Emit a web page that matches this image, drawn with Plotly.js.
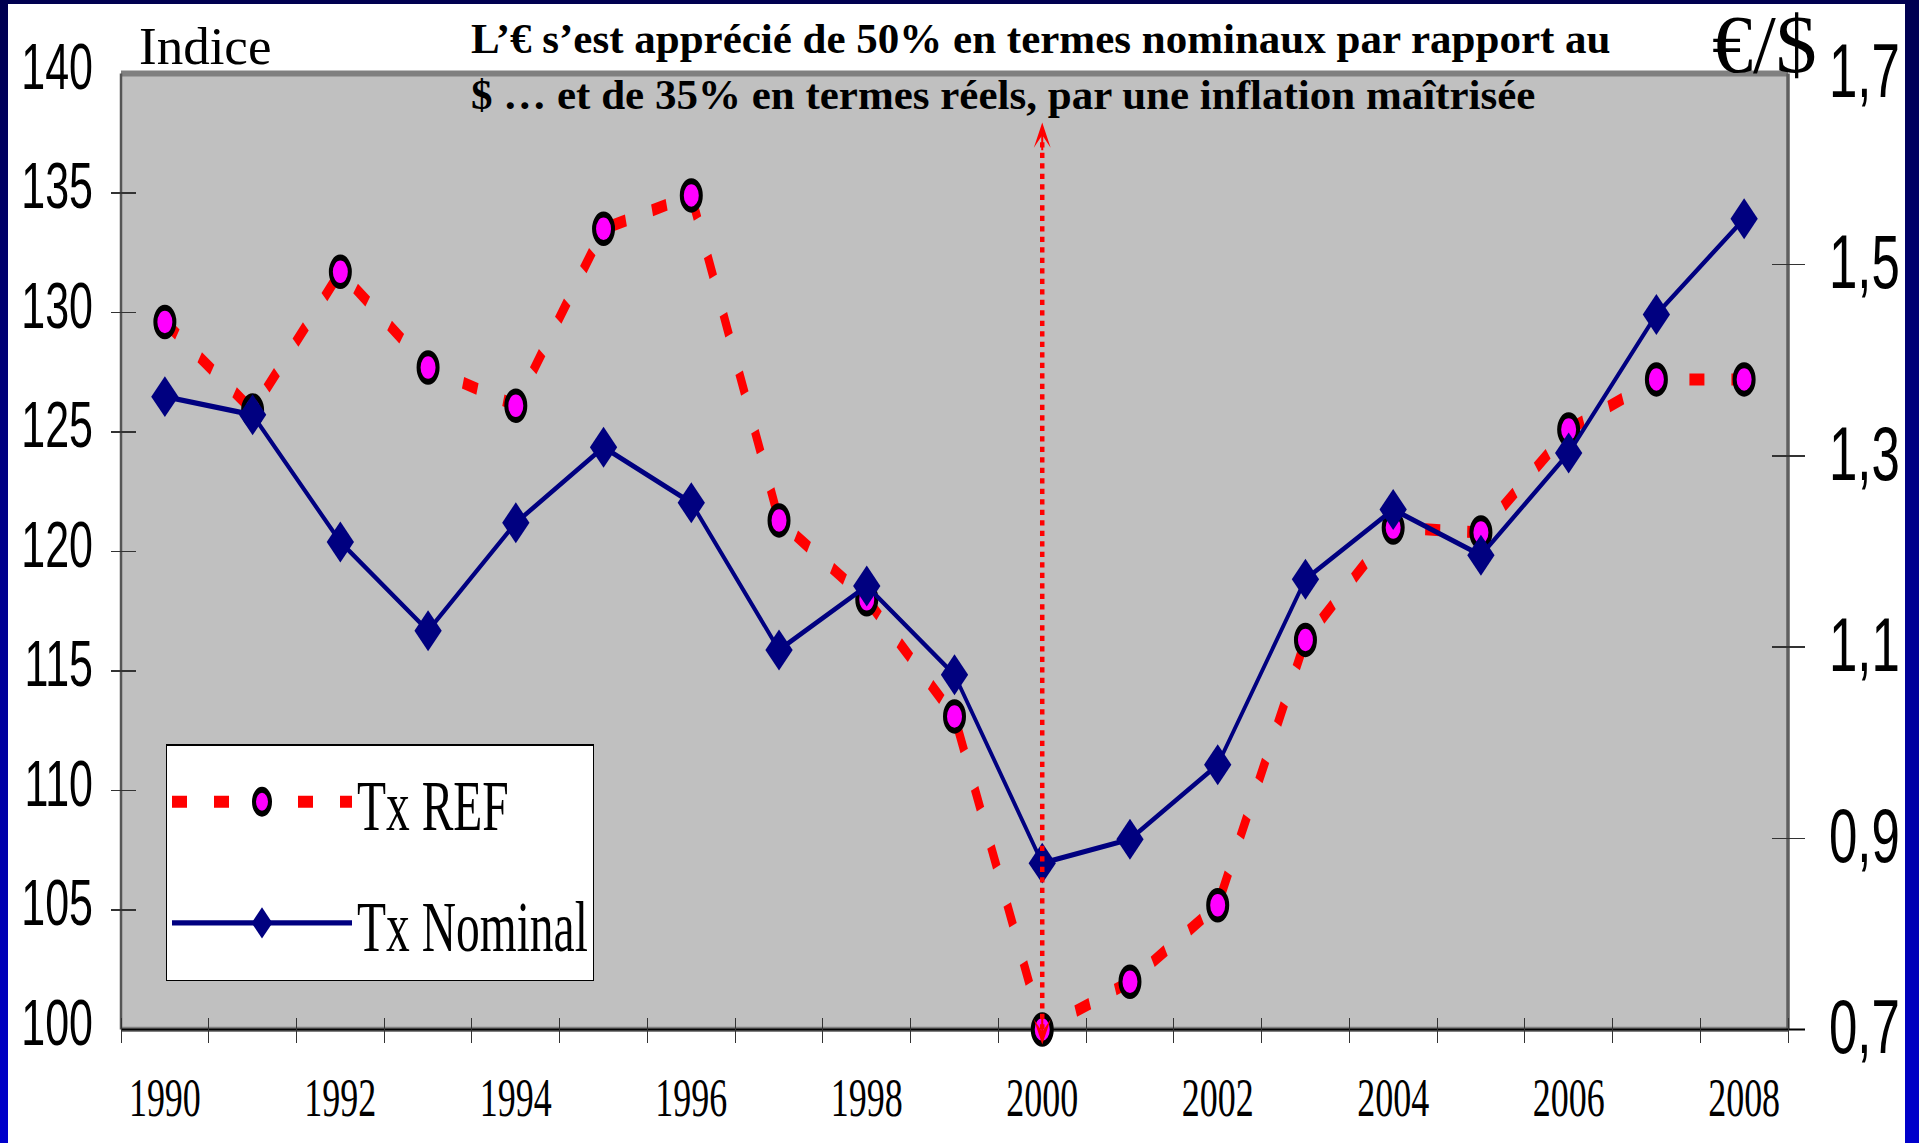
<!DOCTYPE html>
<html>
<head>
<meta charset="utf-8">
<script src="https://cdn.plot.ly/plotly-3.0.1.min.js"></script>
<style>
html,body{margin:0;padding:0;width:1919px;height:1143px;overflow:hidden;background:linear-gradient(to bottom,#000050,#0000cc);}
#panel{position:absolute;left:8px;top:4px;width:1897px;height:1139px;background:#ffffff;}
#chart{position:absolute;left:0;top:0;width:1919px;height:762px;transform:scaleY(1.5);transform-origin:0 0;}
#titles{position:absolute;left:0;top:0;width:1919px;height:1143px;pointer-events:none;}
</style>
</head>
<body>
<div id="panel"></div>
<div id="chart"></div>
<div id="titles"></div>
<script>
// ---- data ----
const years = [1990,1991,1992,1993,1994,1995,1996,1997,1998,1999,2000,2001,2002,2003,2004,2005,2006,2007,2008];
const txRef = [129.6,125.9,131.7,127.7,126.1,133.5,134.9,121.3,118.0,113.1,100.0,102.0,105.2,116.3,121.0,120.8,125.1,127.2,127.2];
const txNominal = [1.362,1.343,1.210,1.117,1.230,1.309,1.251,1.097,1.164,1.071,0.874,0.899,0.977,1.171,1.244,1.196,1.303,1.448,1.548];
const xLabelYears = [1990,1992,1994,1996,1998,2000,2002,2004,2006,2008];
const leftTicks = [100,105,110,115,120,125,130,135,140];
const rightTicks = [0.7,0.9,1.1,1.3,1.5,1.7];
const seriesNames = ['Tx REF','Tx Nominal'];
const titleLines = ['L’€ s’est apprécié de 50% en termes nominaux par rapport au',
                    '$ … et de 35% en termes réels, par une inflation maîtrisée'];
const leftTitle = 'Indice';
const rightTitle = '€/$';
const arrowYear = 2000;
const arrowTop = 137.95;

// ---- geometry helpers ----
const S = 1.5;                 // vertical stretch of the chart picture
const W = 1919, FULLH = 1143, H = FULLH / S;
const M = {l: 110, r: 114, t: 49.33, b: 67.33};
const PW = W - M.l - M.r, PH = H - M.t - M.b;
const xDom = [11 / PW, (1788 - M.l) / PW];
const yDom = [(13 / S) / PH, 1];
const bounds = years.map(y => y - 0.5).concat([years[years.length-1] + 0.5]);
const xRange = [bounds[0], bounds[bounds.length-1]];
const serif = 'Liberation Serif, Times New Roman, serif';
const sans = 'Liberation Sans, Arial, sans-serif';
const xDomExt = (W - M.r - (M.l + xDom[0]*PW)) / ((xDom[1]-xDom[0]) * PW);

const data = [
  {
    x: years, y: txRef, xaxis: 'x', yaxis: 'y',
    mode: 'lines+markers', name: seriesNames[0], legendgroup: 'a',
    line: {color: '#ff0000', width: 8, dash: '15px,27px'},
    marker: {symbol: 'circle', size: 19, color: '#ff00ff', line: {color: '#000000', width: 4}},
    cliponaxis: false
  },
  {
    x: years, y: txNominal, xaxis: 'x', yaxis: 'y2',
    mode: 'lines+markers', name: seriesNames[1], legendgroup: 'b',
    line: {color: '#000080', width: 3.5},
    marker: {symbol: 'diamond', size: 21, color: '#000080'},
    cliponaxis: false
  }
];

const tickStyle = {tickwidth: 1, tickcolor: '#333'};

const layout = {
  width: W, height: H,
  margin: {l: M.l, r: M.r, t: M.t, b: M.b, pad: 0},
  paper_bgcolor: 'rgba(0,0,0,0)',
  plot_bgcolor: '#c0c0c0',
  separators: ', ',
  showlegend: true,
  xaxis: {
    domain: xDom, anchor: 'free', position: 0, range: xRange,
    tickmode: 'array', tickvals: xLabelYears, ticktext: xLabelYears.map(String), ticks: '',
    ticklabelstandoff: 12,
    minor: {tickmode: 'array', tickvals: bounds, ticks: 'inside', ticklen: 25 / S, tickwidth: 1, tickcolor: '#333', showgrid: false},
    showline: false, showgrid: false, zeroline: false, fixedrange: true,
    tickfont: {family: serif, size: 36, color: '#000'}
  },
  yaxis: Object.assign({
    domain: yDom, anchor: 'free', position: 0,
    range: [leftTicks[0], leftTicks[leftTicks.length-1]], tickmode: 'array', tickvals: leftTicks,
    ticks: 'inside', ticklen: 25, showline: false, showgrid: false, zeroline: false, fixedrange: true,
    ticklabelstandoff: 17, ticklabelshift: -5,
    tickfont: {family: sans, size: 43, color: '#000'}
  }, tickStyle),
  yaxis2: Object.assign({
    overlaying: 'y', side: 'right', anchor: 'free', position: 1,
    range: [rightTicks[0], rightTicks[rightTicks.length-1]], tickmode: 'array', tickvals: rightTicks, tickformat: '.1f',
    ticks: 'inside', ticklen: 33, showline: false, showgrid: false, zeroline: false, fixedrange: true,
    ticklabelstandoff: 23, ticklabelshift: -2,
    tickfont: {family: sans, size: 51, color: '#000'}
  }, tickStyle),
  legend: {
    x: (166 - M.l) / PW, y: (M.t + PH - 744 / S) / PH, xanchor: 'left', yanchor: 'top',
    bgcolor: '#ffffff', bordercolor: '#000000', borderwidth: 1,
    font: {family: serif, size: 47.5, color: '#000'},
    itemwidth: 180, tracegroupgap: 16, traceorder: 'grouped', itemsizing: 'trace'
  },
  shapes: [
    {type: 'line', xref: 'x domain', yref: 'y domain', x0: 0, x1: 1, y0: 1, y1: 1, layer: 'below', line: {color: '#808080', width: 4}},
    {type: 'line', xref: 'x domain', yref: 'y domain', x0: 0, x1: 1, y0: 0, y1: 0, layer: 'below', line: {color: '#808080', width: 3.5}},
    {type: 'line', xref: 'x domain', yref: 'y domain', x0: 1, x1: 1, y0: 0, y1: 1, layer: 'below', line: {color: '#606060', width: 3.5}},
    {type: 'line', xref: 'x domain', yref: 'y domain', x0: 0, x1: 0, y0: 0, y1: 1, layer: 'below', line: {color: '#555555', width: 2.5}},
    {type: 'line', xref: 'x domain', yref: 'y domain', x0: 0, x1: xDomExt, y0: 0, y1: 0, layer: 'below', line: {color: '#000000', width: 1.2}},
    {type: 'line', xref: 'x', yref: 'y', x0: arrowYear, x1: arrowYear, y0: leftTicks[0], y1: arrowTop - 0.6, layer: 'above',
      line: {color: '#ff0000', width: 4.5, dash: '3.5px,3.5px'}}
  ],
  annotations: [
    {text: '', xref: 'x', yref: 'y', x: arrowYear, y: arrowTop, ax: 0, ay: 20, showarrow: true,
      arrowhead: 3, arrowsize: 1.4, arrowwidth: 2, arrowcolor: '#ff0000'},
    {text: '', xref: 'x', yref: 'paper', x: arrowYear, y: (M.t + PH - 1044 / S) / PH, ax: 0, ay: -20, showarrow: true,
      arrowhead: 3, arrowsize: 1.4, arrowwidth: 2, arrowcolor: '#ff0000'}
  ]
};

Plotly.newPlot('chart', data, layout, {staticPlot: true, displayModeBar: false});

// Unstretched texts (titles) drawn in a transparent overlay layer at full page size
const titleLayout = {
  width: W, height: FULLH,
  margin: {l: 0, r: 0, t: 0, b: 0, pad: 0},
  paper_bgcolor: 'rgba(0,0,0,0)', plot_bgcolor: 'rgba(0,0,0,0)',
  xaxis: {visible: false, range: [0, 1], fixedrange: true},
  yaxis: {visible: false, range: [0, 1], fixedrange: true},
  showlegend: false,
  annotations: [
    {text: '<b>' + titleLines.join('<br>') + '</b>', xref: 'paper', yref: 'paper',
      x: 469 / W, y: 1 - 66.3 / FULLH, xanchor: 'left', yanchor: 'middle', align: 'left', showarrow: false,
      font: {family: serif, size: 43, color: '#000'}},
    {text: leftTitle, xref: 'paper', yref: 'paper', x: 137 / W, y: 1 - 45.5 / FULLH,
      xanchor: 'left', yanchor: 'middle', showarrow: false, font: {family: serif, size: 53, color: '#000'}},
    {text: rightTitle, xref: 'paper', yref: 'paper', x: 1764 / W, y: 1 - 44 / FULLH,
      xanchor: 'center', yanchor: 'middle', showarrow: false, font: {family: serif, size: 82, color: '#000'}}
  ]
};
Plotly.newPlot('titles', [], titleLayout, {staticPlot: true, displayModeBar: false});
</script>
</body>
</html>
